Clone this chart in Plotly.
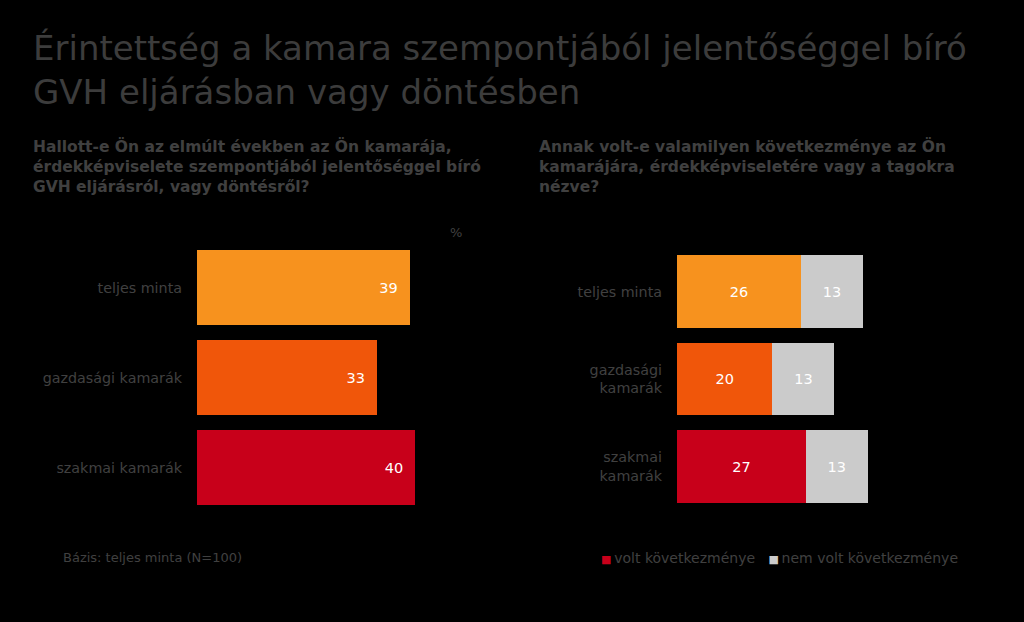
import plotly.graph_objects as go

# ---- data ----
categories = ["teljes minta", "gazdasági kamarák", "szakmai kamarák"]
categories_right = ["teljes minta", "gazdasági<br>kamarák", "szakmai<br>kamarák"]
heard = [39, 33, 40]
consequence_yes = [26, 20, 27]
consequence_no = [13, 13, 13]
series_names = ["volt következménye", "nem volt következménye"]

title_text = "Érintettség a kamara szempontjából jelentőséggel bíró<br>GVH eljárásban vagy döntésben"
q_left = "Hallott-e Ön az elmúlt években az Ön kamarája,<br>érdekképviselete szempontjából jelentőséggel bíró<br>GVH eljárásról, vagy döntésről?"
q_right = "Annak volt-e valamilyen következménye az Ön<br>kamarájára, érdekképviseletére vagy a tagokra<br>nézve?"
base_note = "Bázis: teljes minta (N=100)"

# ---- style ----
cat_colors = ["#F7921E", "#F0560A", "#C8001A"]
grey = "#CBCBCB"
text_grey = "#404040"
FONT = "DejaVu Sans"
W, H = 1024, 622

fig = go.Figure()

fig.add_trace(go.Bar(
    y=categories, x=heard, orientation="h",
    marker=dict(color=cat_colors, line=dict(width=0)),
    width=0.833, text=heard, texttemplate="%{x}\u00a0\u00a0",
    textposition="inside", insidetextanchor="end",
    textfont=dict(color="white", size=14.5, family=FONT),
    xaxis="x", yaxis="y", showlegend=False, hoverinfo="skip",
))

fig.add_trace(go.Bar(
    y=categories_right, x=consequence_yes, orientation="h",
    marker=dict(color=cat_colors, line=dict(width=0)),
    width=0.834, text=consequence_yes, textposition="inside", insidetextanchor="middle",
    textfont=dict(color="white", size=14.5, family=FONT),
    xaxis="x2", yaxis="y2", showlegend=False, hoverinfo="skip",
))
fig.add_trace(go.Bar(
    y=categories_right, x=consequence_no, orientation="h",
    marker=dict(color=grey, line=dict(width=0)),
    width=0.834, text=consequence_no, textposition="inside", insidetextanchor="middle",
    textfont=dict(color="white", size=14.5, family=FONT),
    xaxis="x2", yaxis="y2", showlegend=False, hoverinfo="skip",
))


def px_x(p):
    return p / W


def px_y(p):
    return 1 - p / H


fig.update_layout(
    width=W, height=H,
    paper_bgcolor="black", plot_bgcolor="black",
    margin=dict(l=0, r=0, t=0, b=0),
    barmode="stack",
    showlegend=False,
    font=dict(family=FONT, color=text_grey, size=13),
    xaxis=dict(domain=[px_x(197), px_x(197 + 50 * 5.46)], range=[0, 50],
               visible=False, fixedrange=True),
    yaxis=dict(domain=[px_y(512.5), px_y(242.5)], autorange="reversed",
               showgrid=False, zeroline=False, showline=False, ticks="",
               ticklabelstandoff=14, tickfont=dict(size=14.3, color=text_grey, family=FONT),
               anchor="x"),
    xaxis2=dict(domain=[px_x(677), px_x(677 + 60 * 4.77)], range=[0, 60],
                visible=False, fixedrange=True, anchor="y2"),
    yaxis2=dict(domain=[px_y(510.25), px_y(247.75)], autorange="reversed",
                showgrid=False, zeroline=False, showline=False, ticks="",
                ticklabelstandoff=14, tickfont=dict(size=14.3, color=text_grey, family=FONT),
                anchor="x2"),
)

legend_html = (
    f"<span style='color:{cat_colors[2]};font-size:11px'>■</span>\u2009{series_names[0]}"
    f"\u00a0\u00a0\u00a0<span style='color:{grey};font-size:11px'>■</span>\u2009{series_names[1]}"
)

annotations = [
    dict(text=title_text, x=px_x(31), y=px_y(26), xref="paper", yref="paper",
         xanchor="left", yanchor="top", align="left", showarrow=False,
         font=dict(size=34, color="#3C3C3C", family=FONT)),
    dict(text="<b>" + q_left + "</b>", x=px_x(31), y=px_y(135), xref="paper", yref="paper",
         xanchor="left", yanchor="top", align="left", showarrow=False,
         font=dict(size=15.5, color=text_grey, family=FONT)),
    dict(text="<b>" + q_right + "</b>", x=px_x(537), y=px_y(135), xref="paper", yref="paper",
         xanchor="left", yanchor="top", align="left", showarrow=False,
         font=dict(size=15.5, color=text_grey, family=FONT)),
    dict(text="%", x=px_x(456), y=px_y(232), xref="paper", yref="paper",
         xanchor="center", yanchor="middle", showarrow=False,
         font=dict(size=13, color=text_grey, family=FONT)),
    dict(text=base_note, x=px_x(61), y=px_y(557), xref="paper", yref="paper",
         xanchor="left", yanchor="middle", showarrow=False,
         font=dict(size=13, color=text_grey, family=FONT)),
    dict(text=legend_html, x=px_x(599), y=px_y(558), xref="paper", yref="paper",
         xanchor="left", yanchor="middle", showarrow=False,
         font=dict(size=14, color=text_grey, family=FONT)),
]
fig.update_layout(annotations=annotations)

fig.write_html("out.html", config={"displayModeBar": False},
               post_script="document.body.style.margin='0px';")
